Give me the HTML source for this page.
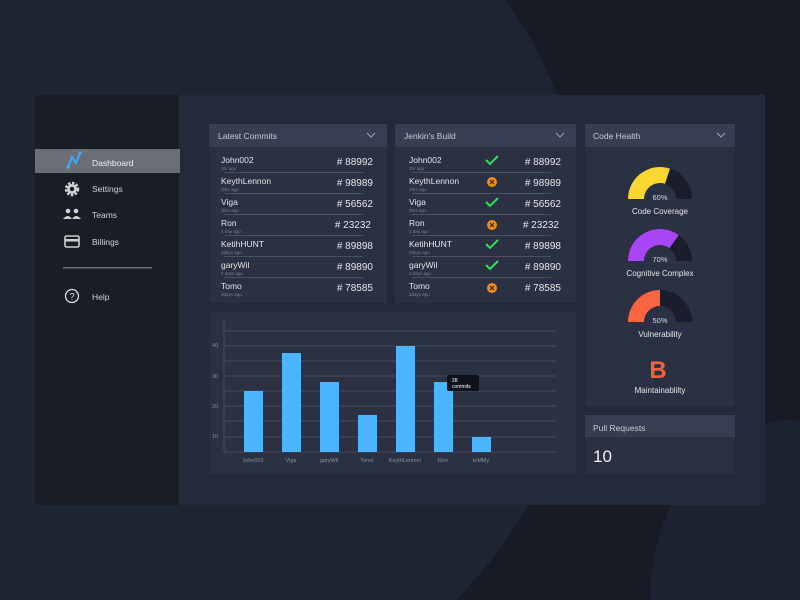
<!DOCTYPE html>
<html><head><style>
html,body{margin:0;padding:0;width:800px;height:600px;overflow:hidden;background:#161b24;font-family:"Liberation Sans",sans-serif;}
svg{display:block;}
</style></head><body>
<svg width="800" height="600" viewBox="0 0 800 600" xmlns="http://www.w3.org/2000/svg" font-family="Liberation Sans, sans-serif">
<rect width="800" height="600" fill="#161b24"/>
<ellipse cx="170" cy="270" rx="420" ry="450" fill="#1e2431"/>
<ellipse cx="790" cy="600" rx="140" ry="180" fill="#1c2230"/>
<rect x="35" y="95" width="145" height="410" fill="#181d26"/>
<rect x="179" y="95" width="586" height="410" fill="#232a3a"/>
<rect x="35" y="149" width="145" height="24" fill="#6a6e76"/>
<path d="M68 167 L72 157 L76 163 L80 153" stroke="#3fa9f5" stroke-width="2" fill="none"/>
<circle cx="68" cy="167" r="1.8" fill="#3fa9f5"/><circle cx="80" cy="153" r="1.8" fill="#3fa9f5"/>
<text x="92" y="166" font-size="8.5" fill="#f0f0f0">Dashboard</text>
<circle cx="72" cy="189" r="6" fill="none" stroke="#d0d0d0" stroke-width="2.5" stroke-dasharray="2.5 1.5"/>
<circle cx="72" cy="189" r="5" fill="#d0d0d0"/><circle cx="72" cy="189" r="2.2" fill="#181d26"/>
<text x="92" y="192" font-size="8.5" fill="#cfd2d8">Settings</text>
<circle cx="68" cy="211" r="2.3" fill="#d0d0d0"/><circle cx="76" cy="211" r="2.3" fill="#d0d0d0"/>
<path d="M63 219 q5 -6 9 0 q4 -6 9 0z" fill="#d0d0d0"/>
<text x="92" y="218" font-size="8.5" fill="#cfd2d8">Teams</text>
<rect x="65" y="236" width="14" height="11" rx="1.5" fill="none" stroke="#d0d0d0" stroke-width="1.6"/><rect x="65" y="239" width="14" height="2.5" fill="#d0d0d0"/>
<text x="92" y="245" font-size="8.5" fill="#cfd2d8">Billings</text>
<rect x="63" y="267" width="89" height="1.5" fill="#6a6e76"/>
<circle cx="72" cy="296" r="6.5" fill="none" stroke="#e0e0e0" stroke-width="1.3"/>
<text x="72" y="299.5" font-size="9" fill="#e0e0e0" text-anchor="middle">?</text>
<text x="92" y="300" font-size="8.5" fill="#cfd2d8">Help</text>

<g>
<rect x="209" y="124" width="178" height="179" fill="#2b3142"/>
<rect x="209" y="124" width="178" height="23" fill="#383e52"/>
<text x="218" y="139" font-size="8.5" fill="#c9ccd4">Latest Commits</text>
<path d="M367 133 l4 4 l4 -4" stroke="#a0a4ae" fill="none"/>
<rect x="395" y="124" width="181" height="179" fill="#2b3142"/>
<rect x="395" y="124" width="181" height="23" fill="#383e52"/>
<text x="404" y="139" font-size="8.5" fill="#c9ccd4">Jenkin's Build</text>
<path d="M556 133 l4 4 l4 -4" stroke="#a0a4ae" fill="none"/>
<rect x="585" y="124" width="150" height="282" fill="#2b3142"/>
<rect x="585" y="124" width="150" height="23" fill="#383e52"/>
<text x="593" y="139" font-size="8.5" fill="#c9ccd4">Code Health</text>
<path d="M717 133 l4 4 l4 -4" stroke="#a0a4ae" fill="none"/>
<rect x="585" y="415" width="150" height="59" fill="#2b3142"/>
<rect x="585" y="415" width="150" height="22" fill="#383e52"/>
<text x="593" y="431" font-size="8.5" fill="#c9ccd4">Pull Requests</text>
<text x="593" y="462" font-size="17" fill="#f0f0f0">10</text>
<rect x="209" y="312" width="367" height="162" fill="#2b3142"/>
</g>

<g font-size="8.5" fill="#e4e6ea">
<g id="r">
<text x="221" y="163">John002</text><text x="221" y="170" font-size="4.5" fill="#7b8090">1hr ago</text><text x="373" y="165" font-size="10" text-anchor="end">#&#160;88992</text><rect x="224" y="172" width="139" height="1" fill="#4a5064"/>
<text x="221" y="184">KeythLennon</text><text x="221" y="191" font-size="4.5" fill="#7b8090">2hrs ago</text><text x="373" y="186" font-size="10" text-anchor="end">#&#160;98989</text><rect x="224" y="193" width="139" height="1" fill="#4a5064"/>
<text x="221" y="205">Viga</text><text x="221" y="212" font-size="4.5" fill="#7b8090">3hrs ago</text><text x="373" y="207" font-size="10" text-anchor="end">#&#160;56562</text><rect x="224" y="214" width="139" height="1" fill="#4a5064"/>
<text x="221" y="226">Ron</text><text x="221" y="233" font-size="4.5" fill="#7b8090">1 day ago</text><text x="371" y="228" font-size="10" text-anchor="end">#&#160;23232</text><rect x="224" y="235" width="139" height="1" fill="#4a5064"/>
<text x="221" y="247">KetihHUNT</text><text x="221" y="254" font-size="4.5" fill="#7b8090">2days ago</text><text x="373" y="249" font-size="10" text-anchor="end">#&#160;89898</text><rect x="224" y="256" width="139" height="1" fill="#4a5064"/>
<text x="221" y="268">garyWil</text><text x="221" y="275" font-size="4.5" fill="#7b8090">2 days ago</text><text x="373" y="270" font-size="10" text-anchor="end">#&#160;89890</text><rect x="224" y="277" width="139" height="1" fill="#4a5064"/>
<text x="221" y="289">Tomo</text><text x="221" y="296" font-size="4.5" fill="#7b8090">3days ago</text><text x="373" y="291" font-size="10" text-anchor="end">#&#160;78585</text>
</g>
<use href="#r" x="188"/>
</g>
<g stroke="#2ee05a" stroke-width="2" fill="none">
<path d="M486 160 l4 4 l8 -8"/><path d="M486 202 l4 4 l8 -8"/><path d="M486 244 l4 4 l8 -8"/><path d="M486 265 l4 4 l8 -8"/>
</g>
<g fill="#f08c1c">
<circle cx="492" cy="182" r="5"/><circle cx="492" cy="225" r="5"/><circle cx="492" cy="288" r="5"/>
</g>
<g stroke="#3a2a10" stroke-width="1.2">
<path d="M490 180 l4 4 M494 180 l-4 4"/><path d="M490 223 l4 4 M494 223 l-4 4"/><path d="M490 286 l4 4 M494 286 l-4 4"/>
</g>

<g stroke="#464c5e" stroke-width="1">
<line x1="224" y1="331" x2="556" y2="331"/><line x1="224" y1="346" x2="556" y2="346"/><line x1="224" y1="361" x2="556" y2="361"/><line x1="224" y1="376" x2="556" y2="376"/><line x1="224" y1="391" x2="556" y2="391"/><line x1="224" y1="406" x2="556" y2="406"/><line x1="224" y1="421" x2="556" y2="421"/><line x1="224" y1="437" x2="556" y2="437"/><line x1="224" y1="452" x2="556" y2="452"/><line x1="224" y1="320" x2="224" y2="452"/>
</g>
<g font-size="5.5" fill="#8a8f9c">
<text x="212" y="347">40</text><text x="212" y="378">30</text><text x="212" y="408">20</text><text x="212" y="438">10</text>
</g>
<g fill="#4bb6ff">
<rect x="244" y="391" width="19" height="61"/><rect x="282" y="353" width="19" height="99"/><rect x="320" y="382" width="19" height="70"/><rect x="358" y="415" width="19" height="37"/><rect x="396" y="346" width="19" height="106"/><rect x="434" y="382" width="19" height="70"/><rect x="472" y="437" width="19" height="15"/>
</g>
<g font-size="5.5" fill="#8a8f9c" text-anchor="middle">
<text x="253" y="462">John002</text><text x="291" y="462">Viga</text><text x="329" y="462">garyWil</text><text x="367" y="462">Tomo</text><text x="405" y="462">KeythLennon</text><text x="443" y="462">Ron</text><text x="481" y="462">toMMy</text>
</g>
<rect x="447" y="375" width="32" height="16" rx="2" fill="#0f1218"/>
<text x="452" y="382" font-size="5" fill="#fff">28</text><text x="452" y="388" font-size="5" fill="#fff">commits</text>

<g>
<path d="M628 199 A32 32 0 0 1 692 199 L676 199 A16 16 0 0 0 644 199Z" fill="#1a1e2c"/>
<path d="M628 199 A32 32 0 0 1 669.9 168.6 L665 183.8 A16 16 0 0 0 644 199Z" fill="#fcd733"/>
<text x="660" y="200" font-size="7.5" fill="#d8dae0" text-anchor="middle">60%</text>
<text x="660" y="214" font-size="8" fill="#e4e6ea" text-anchor="middle">Code Coverage</text>
<path d="M628 261 A32 32 0 0 1 692 261 L676 261 A16 16 0 0 0 644 261Z" fill="#1a1e2c"/>
<path d="M628 261 A32 32 0 0 1 678.8 235.1 L669.4 248.1 A16 16 0 0 0 644 261Z" fill="#a845f5"/>
<text x="660" y="262" font-size="7.5" fill="#d8dae0" text-anchor="middle">70%</text>
<text x="660" y="276" font-size="8" fill="#e4e6ea" text-anchor="middle">Cognitive Complex</text>
<path d="M628 322 A32 32 0 0 1 692 322 L676 322 A16 16 0 0 0 644 322Z" fill="#1a1e2c"/>
<path d="M628 322 A32 32 0 0 1 660 290 L660 306 A16 16 0 0 0 644 322Z" fill="#fa6541"/>
<text x="660" y="323" font-size="7.5" fill="#d8dae0" text-anchor="middle">50%</text>
<text x="660" y="337" font-size="8" fill="#e4e6ea" text-anchor="middle">Vulnerability</text>
<text x="658" y="378" font-size="24" font-weight="bold" fill="#f2623f" text-anchor="middle">B</text>
<text x="660" y="393" font-size="8" fill="#e4e6ea" text-anchor="middle">Maintainablilty</text>
</g>
</svg>
</body></html>
